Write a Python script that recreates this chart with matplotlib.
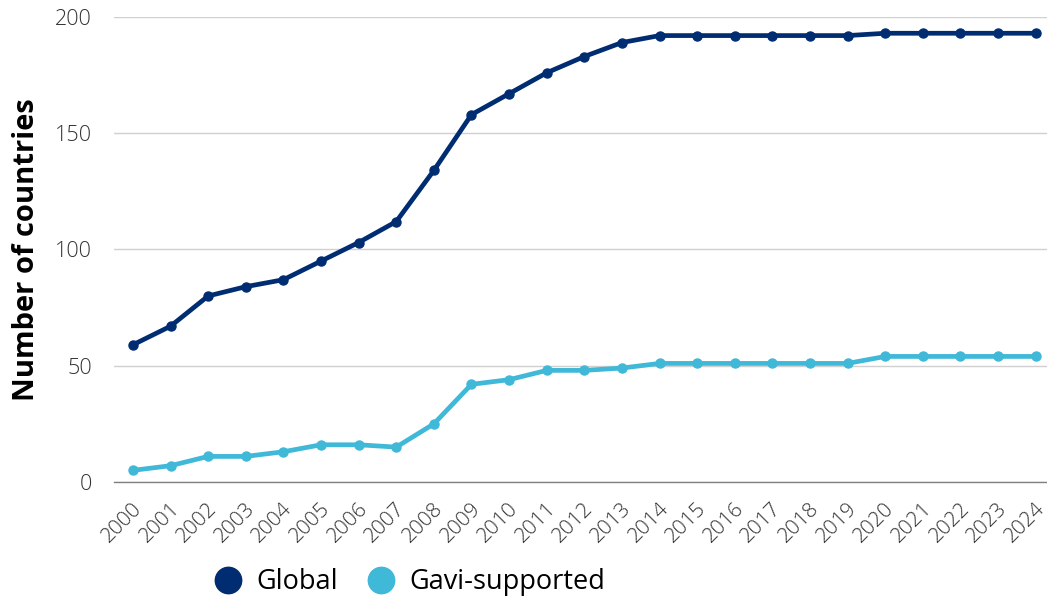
import matplotlib
matplotlib.use("Agg")
import matplotlib.pyplot as plt
from matplotlib.lines import Line2D
import matplotlib.transforms as mtrans

years = [str(y) for y in range(2000, 2025)]
global_vals = [59, 67, 80, 84, 87, 95, 103, 112, 134, 158, 167, 176, 183, 189, 192,
               192, 192, 192, 192, 192, 193, 193, 193, 193, 193]
gavi_vals = [5, 7, 11, 11, 13, 16, 16, 15, 25, 42, 44, 48, 48, 49, 51,
             51, 51, 51, 51, 51, 54, 54, 54, 54, 54]
series_names = ["Global", "Gavi-supported"]
colors = ["#002D72", "#40B8D8"]
yticks = [0, 50, 100, 150, 200]

plt.rcParams['font.family'] = ['Open Sans', 'DejaVu Sans']

fig = plt.figure(figsize=(10.47, 6.0), dpi=100)
ax = fig.add_axes([0.109, 0.1967, 0.891, 0.775])

x = list(range(len(years)))
for vals, c in zip([global_vals, gavi_vals], colors):
    ax.plot(x, vals, color=c, lw=3.4, marker='o', ms=6.5, solid_capstyle='round',
            zorder=3, clip_on=False)

ax.set_ylim(0, 200)
ax.set_xlim(-0.5, 24.3)
ax.set_yticks(yticks)
ax.set_yticklabels([str(t) for t in yticks], fontsize=15.5, color='#333333',
                   fontweight='light')
ax.set_xticks(x)
ax.set_xticklabels(years, rotation=45, ha='right', rotation_mode='anchor',
                   fontsize=15, color='#333333', fontweight='light')
ax.tick_params(axis='both', length=0)
ax.tick_params(axis='y', pad=16)
ax.tick_params(axis='x', pad=12)
for t in ax.get_xticklabels():
    t.set_transform(t.get_transform() + mtrans.ScaledTranslation(-0.01, 0, fig.dpi_scale_trans))
ax.grid(axis='y', color='#D0D0D0', lw=1)
ax.set_axisbelow(True)
for s in ['top', 'right', 'left']:
    ax.spines[s].set_visible(False)
ax.spines['bottom'].set_color('#808080')
ax.spines['bottom'].set_linewidth(1)
ax.set_ylabel("Number of countries", fontsize=21, fontweight='bold', color='black',
              labelpad=10)

handles = [Line2D([], [], marker='o', color=c, lw=0, ms=19) for c in colors]
fig.legend(handles, series_names, loc='center', bbox_to_anchor=(0.385, 0.03),
           ncol=2, frameon=False, fontsize=19.5, handletextpad=0.05, columnspacing=0.6)

fig.savefig("out.png", dpi=100)
